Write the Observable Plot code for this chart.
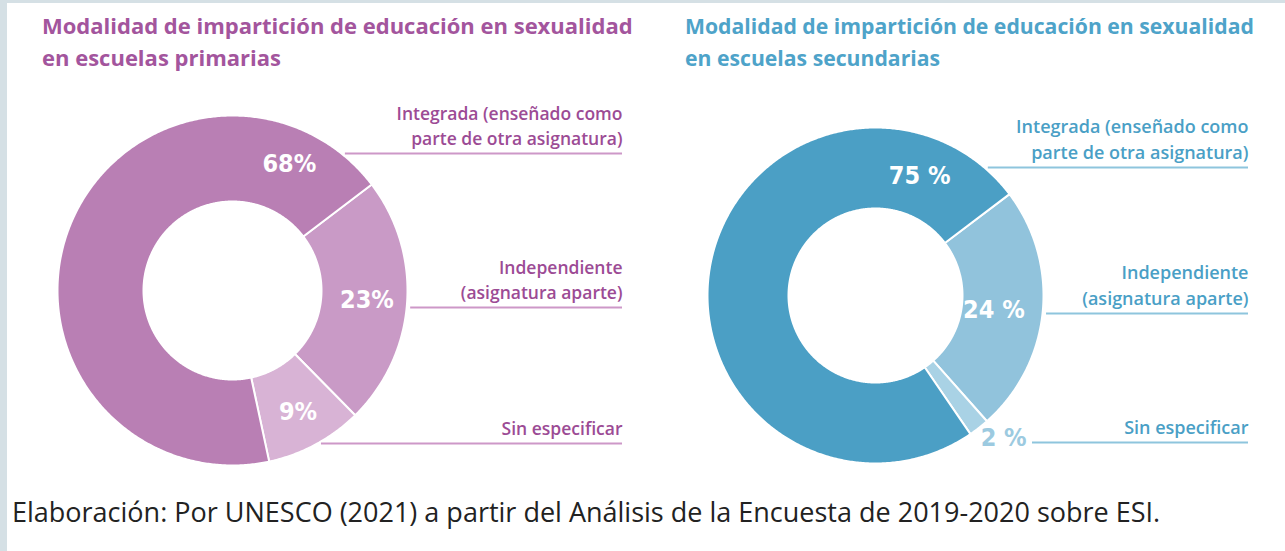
<!DOCTYPE html>
<html>
<head>
<meta charset="utf-8">
<script src="https://cdn.jsdelivr.net/npm/d3@7"></script>
<script src="https://cdn.jsdelivr.net/npm/@observablehq/plot@0.6"></script>
<style>
  html, body { margin: 0; padding: 0; background: #ffffff; }
  #page { position: relative; width: 1285px; height: 551px; overflow: hidden; background: #ffffff; }
  .edge-left { position: absolute; left: 0; top: 0; width: 7px; height: 551px; background: #d5e0e5; }
  .edge-top { position: absolute; left: 0; top: 0; width: 1285px; height: 3px; background: #d5e0e5; }
  .title { position: absolute; top: 9px; font-family: "Open Sans", sans-serif; font-weight: 700; font-size: 22px; line-height: 32px; white-space: nowrap; }
  #title-right { font-size: 21.2px; top: 10px; }
  .panel { position: absolute; top: 80px; }
  .caption { position: absolute; left: 12px; top: 496px; font-family: "Open Sans", sans-serif; font-size: 27px; line-height: 32px; color: #222; white-space: nowrap; }
  .pct text { font-stretch: condensed; }
</style>
</head>
<body>
<div id="page">
  <div class="edge-left"></div>
  <div class="edge-top"></div>
  <div id="title-left" class="title"></div>
  <div id="title-right" class="title"></div>
  <div id="panel-left" class="panel"></div>
  <div id="panel-right" class="panel"></div>
  <div id="caption" class="caption"></div>
</div>
<script>
// ---------- DATA ----------
const categories = ["Integrada", "Independiente", "Sin especificar"];
const categoryLabels = [
  "Integrada (enseñado como\nparte de otra asignatura)",
  "Independiente\n(asignatura aparte)",
  "Sin especificar"
];
const primaryValues = [68, 23, 9];
const secondaryValues = [75, 24, 2];
const primaryPctLabels = ["68%", "23%", "9%"];
const secondaryPctLabels = ["75 %", "24 %", "2 %"];
const titlePrimary = "Modalidad de impartición de educación en sexualidad\nen escuelas primarias";
const titleSecondary = "Modalidad de impartición de educación en sexualidad\nen escuelas secundarias";
const captionText = "Elaboración: Por UNESCO (2021) a partir del Análisis de la Encuesta de 2019-2020 sobre ESI.";

// ---------- STYLE / LAYOUT ----------
const drawOrder = [1, 2, 0]; // clockwise from start angle
const panels = [
  {
    el: "#panel-left", titleEl: "#title-left", title: titlePrimary, titleLeft: 42,
    values: primaryValues, pct: primaryPctLabels,
    left: 0, top: 80, width: 640, height: 400, cx: 232, cy: 290, R: 175, r: 89,
    startDeg: 52.7,
    colors: ["#b97fb4", "#c99ac6", "#d8b3d5"],
    titleColor: "#a3559d", labelColor: "#9c4b95", ruleColor: "#cd98c8",
    outsideColor: "#d8b3d5",
    pctShift: [94, 0, 0], pctRadius: [0.79, 0.77, 0.79],
    ruleY: [153, 307, 443], ruleStart: [null, null, null], labelRight: 622,
    labelSize: 17.5
  },
  {
    el: "#panel-right", titleEl: "#title-right", title: titleSecondary, titleLeft: 685,
    values: secondaryValues, pct: secondaryPctLabels,
    left: 640, top: 80, width: 645, height: 400, cx: 875, cy: 295, R: 168, r: 87,
    startDeg: 52.9,
    colors: ["#4b9fc5", "#91c3dc", "#a9d2e5"],
    titleColor: "#4ea3c9", labelColor: "#4a9fc6", ruleColor: "#8ec5dd",
    outsideColor: "#9ccae0",
    pctShift: [101, 1.5, -4], pctRadius: [0.76, 0.71, 1.14],
    ruleY: [167, 313, 442], ruleStart: [null, null, 1032], labelRight: 1248,
    labelSize: 18
  }
];

const pctFont = "'DejaVu Sans Condensed', 'DejaVu Sans', sans-serif";
const labelFont = "'Open Sans', sans-serif";

function donut(p) {
  const total = d3.sum(p.values);
  const inner = p.r / p.R;
  const rad = d => d * Math.PI / 180;
  const pts = [];
  const slices = [];
  let a = p.startDeg;
  for (const i of drawOrder) {
    const span = p.values[i] / total * 360;
    const a0 = a, a1 = a + span;
    a = a1;
    slices.push({i, cat: categories[i], a0, a1});
    const n = Math.max(2, Math.ceil(span * 2));
    for (let k = 0; k <= n; k++) {
      const t = rad(a0 + (a1 - a0) * k / n);
      pts.push({cat: categories[i], x: Math.sin(t), y: Math.cos(t)});
    }
    for (let k = n; k >= 0; k--) {
      const t = rad(a0 + (a1 - a0) * k / n);
      pts.push({cat: categories[i], x: inner * Math.sin(t), y: inner * Math.cos(t)});
    }
  }
  const pctData = slices.map(s => {
    const ang = rad((s.a0 + s.a1) / 2 + p.pctShift[s.i]);
    const rr = p.pctRadius[s.i];
    return {text: p.pct[s.i], x: rr * Math.sin(ang), y: rr * Math.cos(ang), outside: rr > 1};
  });
  // pixel -> unit helpers (layout)
  const ux = px => (px - p.cx) / p.R;
  const uy = py => (p.cy - py) / p.R;
  const gap = 4 / p.R;
  const ruleData = categories.map((c, i) => {
    const y = uy(p.ruleY[i]);
    const x1 = p.ruleStart[i] != null ? ux(p.ruleStart[i]) : Math.sqrt(Math.max(0, 1 - y * y)) + gap;
    return {cat: c, label: categoryLabels[i], y, x1, x2: ux(p.labelRight)};
  });

  const svgCx = p.cx - p.left, svgCy = p.cy - p.top;
  return Plot.plot({
    width: p.width, height: p.height,
    margin: 0,
    x: {domain: [-svgCx / p.R, (p.width - svgCx) / p.R], range: [0, p.width], axis: null},
    y: {domain: [-(p.height - svgCy) / p.R, svgCy / p.R], range: [p.height, 0], axis: null},
    color: {domain: categories, range: p.colors},
    style: {background: "transparent", overflow: "visible"},
    marks: [
      Plot.line(pts, {x: "x", y: "y", z: "cat", fill: "cat", stroke: "white", strokeWidth: 2, curve: "linear-closed"}),
      Plot.text(pctData.filter(d => !d.outside), {x: "x", y: "y", text: "text", fill: "white", fontSize: 25, fontWeight: "bold", fontFamily: pctFont, className: "pct"}),
      Plot.text(pctData.filter(d => d.outside), {x: "x", y: "y", text: "text", fill: p.outsideColor, fontSize: 25, fontWeight: "bold", fontFamily: pctFont, className: "pct"}),
      Plot.ruleY(ruleData, {y: "y", x1: "x1", x2: "x2", stroke: p.ruleColor, strokeWidth: 2}),
      Plot.text(ruleData, {x: "x2", y: "y", text: "label", textAnchor: "end", lineAnchor: "bottom", dy: -9, lineHeight: 1.4, fill: p.labelColor, fontSize: p.labelSize, fontWeight: 600, fontFamily: labelFont})
    ]
  });
}

for (const p of panels) {
  const el = document.querySelector(p.el);
  el.style.left = p.left + "px";
  el.style.top = p.top + "px";
  el.appendChild(donut(p));
  const t = document.querySelector(p.titleEl);
  t.style.left = p.titleLeft + "px";
  t.style.color = p.titleColor;
  t.innerHTML = p.title.split("\n").join("<br>");
}
document.querySelector("#caption").textContent = captionText;
</script>
</body>
</html>
